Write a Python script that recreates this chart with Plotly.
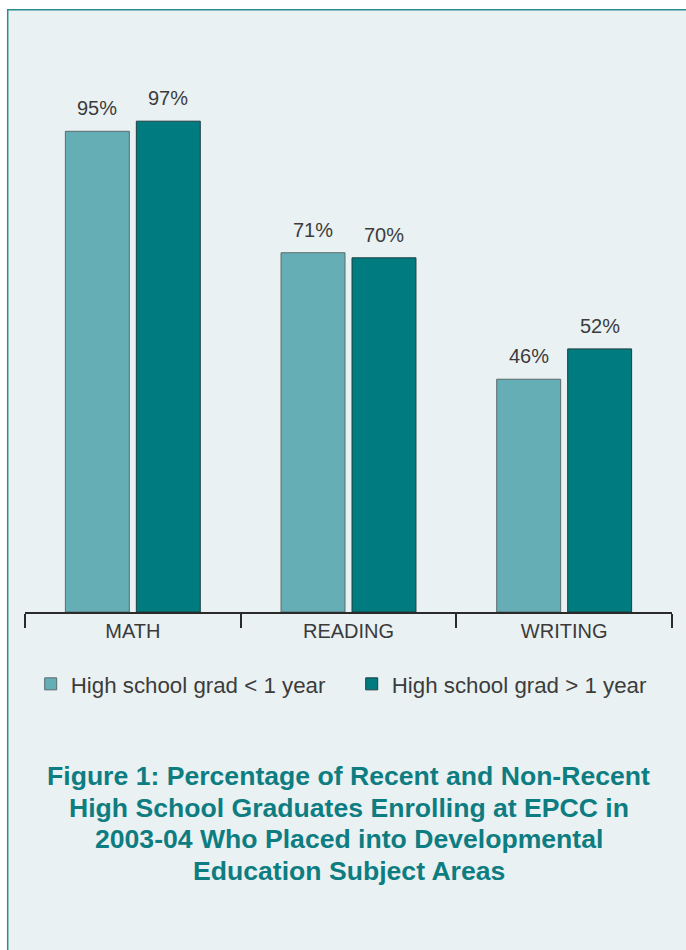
import plotly.graph_objects as go

categories = ["MATH", "READING", "WRITING"]
recent = [95, 71, 46]
non_recent = [97, 70, 52]
series_names = ["High school grad < 1 year", "High school grad > 1 year"]
title_lines = ["Figure 1: Percentage of Recent and Non-Recent",
               "High School Graduates Enrolling at EPCC in",
               "2003-04 Who Placed into Developmental",
               "Education Subject Areas"]

BG = "#E9F1F3"
LIGHT = "#66AEB6"
DARK = "#007B7F"
TEAL_TXT = "#0E7D81"
FONT = "Liberation Sans, Arial, Helvetica, sans-serif"

W, H = 686, 950
ML, MR, MT = 25, 14, 106
PLOT_H = 506
MB = H - MT - PLOT_H

fig = go.Figure()
fig.add_trace(go.Bar(x=categories, y=recent, name=series_names[0],
                     marker=dict(color=LIGHT, line=dict(color="#5a6a6c", width=1))))
fig.add_trace(go.Bar(x=categories, y=non_recent, name=series_names[1],
                     marker=dict(color=DARK, line=dict(color="#1f3f41", width=1))))

annotations = []
for i, (a, b) in enumerate(zip(recent, non_recent)):
    for v, shift in ((a, -35.5), (b, 35.5)):
        annotations.append(dict(x=i, y=v, xref="x", yref="y", text=f"{v}%",
                                showarrow=False, xshift=shift, yshift=10,
                                yanchor="bottom",
                                font=dict(family=FONT, size=20, color="#3c3c3c")))
line_step = 31.7 / PLOT_H
for k, line in enumerate(title_lines):
    annotations.append(dict(x=0.5, y=-0.3241 - k * line_step, xref="paper", yref="paper",
                            text=line, showarrow=False, xanchor="center",
                            yanchor="middle", align="center",
                            font=dict(family=FONT, size=26.6, color=TEAL_TXT,
                                      weight="bold")))

fig.update_layout(
    width=W, height=H,
    margin=dict(l=ML, r=MR, t=MT, b=MB, autoexpand=False),
    paper_bgcolor="white",
    plot_bgcolor="rgba(0,0,0,0)",
    barmode="group",
    bargap=0.342,
    bargroupgap=0.0986,
    showlegend=True,
    legend=dict(orientation="h", x=0.0088, y=-0.142, xanchor="left",
                yanchor="middle", bgcolor="rgba(0,0,0,0)",
                entrywidth=276, entrywidthmode="pixels",
                font=dict(family=FONT, size=22.3, color="#3c3c3c"),
                traceorder="normal", itemclick=False),
    annotations=annotations,
    shapes=[dict(type="rect", xref="paper", yref="paper",
                 x0=(7.7 - ML) / 647, x1=1.06, y0=-0.72, y1=(PLOT_H + MT - 9.7) / PLOT_H,
                 fillcolor=BG, line=dict(color="#2A8C8F", width=1.5),
                 layer="below")],
    font=dict(family=FONT),
)
fig.update_xaxes(showline=True, linecolor="#2a2a2a", linewidth=2,
                 ticks="outside", ticklen=14, tickwidth=1.5, tickcolor="#2a2a2a",
                 tickson="boundaries", showgrid=False, zeroline=False,
                 tickfont=dict(family=FONT, size=20, color="#3a3a3a"))
fig.update_yaxes(visible=False, range=[0, 100], showgrid=False, zeroline=False)

fig.write_html("out.html",
               config={"displayModeBar": False},
               post_script="document.body.style.margin='0';"
                           "document.body.style.overflow='hidden';")
